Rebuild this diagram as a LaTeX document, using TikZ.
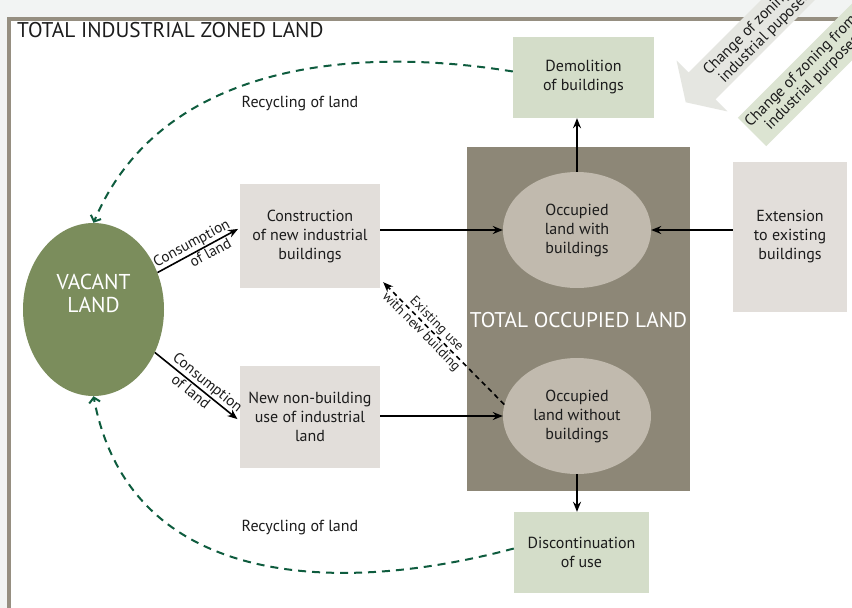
\documentclass[tikz,border=0pt]{standalone}
\usepackage{fontspec}
\setmainfont{PT Sans}
\usetikzlibrary{arrows.meta,shapes.geometric,calc}
\definecolor{bgout}{HTML}{F2F4F3}
\definecolor{framegrey}{HTML}{968F81}
\definecolor{occgrey}{HTML}{8D8777}
\definecolor{vacgreen}{HTML}{7B8D5C}
\definecolor{lightbox}{HTML}{E2DEDA}
\definecolor{greenbox}{HTML}{D4DDC9}
\definecolor{ellfill}{HTML}{C1BAAE}
\definecolor{dashgreen}{HTML}{0E5C3E}
\definecolor{txt}{HTML}{1C1C1C}
\definecolor{bandgrey}{HTML}{E5E6E1}
\definecolor{bandgreen}{HTML}{DCE4D2}
\begin{document}
\begin{tikzpicture}[x=1pt,y=-1pt,
  boxtext/.style={font=\fontsize{16}{19}\selectfont, text=txt, align=center, inner sep=0pt},
  lgbox/.style={boxtext, fill=lightbox},
  gnbox/.style={boxtext, fill=greenbox},
  occell/.style={boxtext, ellipse, fill=ellfill, minimum width=148pt, minimum height=116pt},
  arr/.style={line width=1.6pt, draw=black, -{Stealth[length=10pt,width=8pt]}},
  dasharr/.style={line width=1.6pt, draw=black, dash pattern=on 5pt off 4pt, -{Stealth[length=10pt,width=8pt]}},
  recyc/.style={line width=2pt, draw=dashgreen, dash pattern=on 8pt off 6pt, -{Straight Barb[length=5pt,width=11pt,line width=2pt]}},
  smalllab/.style={font=\fontsize{15}{16}\selectfont, text=txt, inner sep=1.2pt},
  exlab/.style={font=\fontsize{13.5}{14}\selectfont, text=txt, inner sep=1.2pt},
  biglab/.style={font=\fontsize{21.3}{24}\selectfont, inner sep=0pt},
  bandtext/.style={font=\fontsize{15.5}{16}\selectfont, text=txt, align=center, inner sep=0pt}
]
\useasboundingbox (0,0) rectangle (852,608);
\clip (0,0) rectangle (852,608);
% background and frame
\fill[bgout] (0,0) rectangle (852,608);
\fill[white] (9,19) rectangle (852,608);
\draw[framegrey, line width=4pt] (9,610) -- (9,19) -- (840,19);
\node[biglab, text=txt, anchor=base west] (title) at (17,37.5) {TOTAL INDUSTRIAL ZONED LAND};

% zoning change bands
\begin{scope}[shift={(702,86)}, rotate=45]
  \fill[bandgrey] (-23,0) -- (0,-36) -- (0,-19) -- (220,-19) -- (220,19) -- (0,19) -- (0,36) -- cycle;
  \node[bandtext, anchor=west, rotate=45] (zto) at (12,2) {Change of zoning to\\industrial puposes};
\end{scope}
\begin{scope}[shift={(752,132)}, rotate=45]
  \fill[bandgreen] (0,-20) rectangle (220,20);
  \node[bandtext, anchor=west, rotate=45] (zfrom) at (2,0) {Change of zoning from\\industrial purposes};
\end{scope}

% total occupied land
\node[fill=occgrey, minimum width=223pt, minimum height=344pt, inner sep=0pt] (occ) at (578.5,319) {};
\node[biglab, text=white] (occlab) at (578.5,320) {TOTAL OCCUPIED LAND};
\node[occell] (e1) at (577,230) {Occupied\\land with\\buildings};
\node[occell] (e2) at (577,416) {Occupied\\land without\\buildings};

% vacant land
\node[ellipse, fill=vacgreen, minimum width=141pt, minimum height=173pt, inner sep=0pt] (vac) at (93.5,309.5) {};
\node[text=white, align=center, inner sep=0pt, font=\fontsize{21.5}{23}\selectfont] (vaclab) at (93.5,293.5) {VACANT\\LAND};

% boxes
\node[lgbox, minimum width=140pt, minimum height=104pt] (cons) at (310,236) {Construction\\of new industrial\\buildings};
\node[lgbox, minimum width=140pt, minimum height=102pt] (nonb) at (310,417) {New non-building\\use of industrial\\land};
\node[gnbox, minimum width=141pt, minimum height=81pt] (demo) at (583.5,77.5) {Demolition\\of buildings};
\node[gnbox, minimum width=135pt, minimum height=81pt] (disc) at (581.5,552.5) {Discontinuation\\of use};
\node[lgbox, minimum width=114pt, minimum height=150pt] (ext) at (790,237) {Extension\\to existing\\buildings};

% arrows
\draw[arr] (cons.east |- e1.west) -- (e1.west);
\draw[arr] (nonb.east |- e2.west) -- (e2.west);
\draw[arr] (ext.west |- e1.east) -- (e1.east);
\draw[arr] (e1.north) -- (e1.north |- demo.south);
\draw[arr] (e2.south) -- (e2.south |- disc.north);
\draw[arr, shorten >=2pt] (vac.30) -- ([yshift=8pt]cons.west)
  node[smalllab, sloped, pos=0.47, above] (c1a) {Consumption}
  node[smalllab, sloped, pos=0.6, below] (c1b) {of land};
\draw[arr, shorten >=3pt] (vac.-35) -- ([yshift=-4pt]nonb.west)
  node[smalllab, sloped, pos=0.55, above] (c2a) {Consumption}
  node[smalllab, sloped, pos=0.48, below] (c2b) {of land};
\draw[dasharr] (e2.171) -- ([xshift=3pt,yshift=6pt]cons.south east)
  node[exlab, sloped, pos=0.61, above] (exa) {Existing use}
  node[exlab, sloped, pos=0.64, below] (exb) {with new building};

% recycling
\draw[recyc] ([yshift=6pt]demo.west) .. controls (350,45) and (160,65) .. (vac.north);
\draw[recyc] ([yshift=4pt]disc.west) .. controls (340,595) and (130,590) .. (vac.south);
\node[boxtext] (r1) at (300,104) {Recycling of land};
\node[boxtext] (r2) at (300,528) {Recycling of land};
\end{tikzpicture}
\end{document}
